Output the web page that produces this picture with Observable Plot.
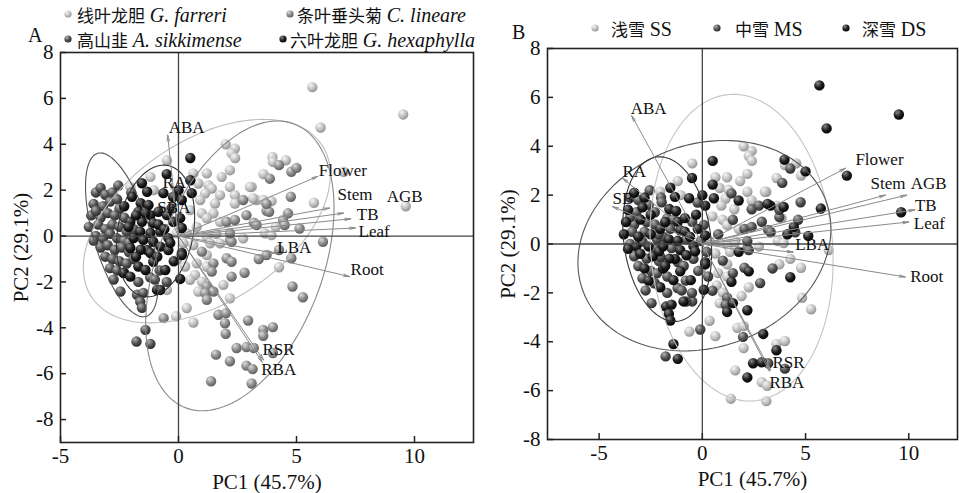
<!DOCTYPE html>
<html><head><meta charset="utf-8">
<script src="https://cdn.jsdelivr.net/npm/d3@7"></script>
<script src="https://cdn.jsdelivr.net/npm/@observablehq/plot@0.6"></script>
<style>
html,body{margin:0;padding:0;background:#fff;}
#wrap{position:relative;width:959px;height:493px;overflow:hidden;font-family:"Liberation Serif","Times New Roman",serif;color:#111;}
.panel{position:absolute;top:0;}
.leg{position:absolute;white-space:nowrap;font-size:19px;line-height:19px;}
.leg .zh{font-family:"Noto Sans CJK SC",sans-serif;font-size:17px;}
.leg i{font-family:"Liberation Serif",serif;font-size:20px;}
.bul{position:absolute;}
.letter{position:absolute;font-size:20px;line-height:20px;}
</style></head><body><div id="wrap"></div>
<script>
// ---------------- DATA ----------------
// points: [PC1, PC2, snow class index (0 SS, 1 MS, 2 DS)]
const farreri = [
[5.67,6.49,2],[9.52,5.30,2],[6.02,4.73,2],[3.98,3.45,2],[4.00,3.23,0],[4.55,3.30,0],[3.60,2.70,0],[3.10,2.14,0],[3.30,1.57,2],[3.94,1.52,2],[5.74,1.45,2],[4.12,0.40,2],[9.63,1.30,2],[7.00,2.80,2],[3.66,0.12,0],[3.94,0.04,0],[4.26,-1.36,2],
[2.39,3.81,0],[2.25,3.60,0],[2.00,4.00,0],[2.40,3.40,0],[-0.49,3.30,0],[0.63,2.73,0],[1.20,2.73,0],[1.83,2.58,0],[2.18,2.87,0],[3.03,2.14,0],[0.84,2.29,0],[1.27,2.22,0],[1.41,2.07,1],[2.18,2.14,0],[2.39,1.78,0],[1.76,1.78,2],[1.13,1.86,0],[0.92,1.57,0],[1.55,1.42,0],[2.39,1.42,1],[3.16,1.64,2],[3.59,1.57,0],[0.99,0.99,0],[1.48,0.99,1],[1.20,0.77,0],[1.76,0.62,0],[0.49,1.13,0],[0.77,0.40,1],[0.35,0.12,0],[1.20,-0.03,0],[1.60,0.10,0],[-1.19,2.58,0],[-2.04,2.14,0],[-1.05,2.00,0],
[0.70,-1.70,0],[0.49,-1.91,1],[0.99,-1.99,0],[0.84,-2.42,0],[1.90,-2.13,0],[2.18,-2.71,2],[-0.49,-2.35,1],[-0.07,-1.04,0],[0.28,-1.33,1],[0.77,-1.19,0],[1.20,-1.33,0],[1.20,-0.83,0],[0.21,-0.32,1],[0.63,-0.39,0],[1.34,-0.32,0],[1.76,-0.32,2],[2.74,-0.10,0],[-0.07,0.13,1],[-0.10,-3.50,1],[0.63,-3.77,0],[0.35,-3.14,0]
];
const lineare = [
[4.26,3.09,1],[4.78,2.80,0],[5.00,2.97,2],[3.87,2.50,1],[4.76,1.71,1],[3.73,1.10,1],[3.84,1.06,0],[4.64,0.99,1],[3.19,0.58,1],[4.43,0.70,2],[4.50,0.48,1],[5.13,0.33,2],[6.12,-0.25,0],[3.73,-0.83,0],[4.78,-0.97,0],[4.26,-0.61,0],[4.83,-2.20,0],[5.27,-2.67,0],[2.74,1.57,1],[3.73,1.40,1],[2.04,0.62,1],[2.39,0.70,1],[2.88,0.91,1],[3.31,0.48,1],[2.18,-0.17,1],[1.20,-2.20,1],[1.48,-2.42,2],[1.13,-2.49,1],[1.20,-2.78,2],[2.25,-1.77,0],[1.48,-1.19,1],[1.41,-1.55,2],[2.04,-0.97,1],[2.25,-1.12,2],[0.99,-0.68,1],[2.25,-0.25,1],[2.18,0.12,1],[3.40,-1.00,1],[2.80,-1.60,1],
[-0.63,-3.58,0],[1.69,-3.43,0],[2.01,-3.36,0],[1.97,-3.80,1],[2.00,-4.26,0],[2.95,-3.68,2],[3.59,-4.09,0],[3.59,-4.35,2],[4.00,-3.97,0],[2.46,-4.88,2],[2.88,-4.84,2],[3.19,-4.88,1],[1.59,-5.17,0],[2.18,-5.46,2],[2.88,-5.65,0],[3.14,-5.80,0],[1.38,-6.33,0],[3.10,-6.43,0],[4.00,-5.10,1]
];
const sikkimense = [
[-3.5,1.9,1],[-3.3,2.1,2],[-3.1,1.8,1],[-2.8,1.9,2],[-2.55,2.2,1],[-3.6,1.4,2],[-3.2,1.3,1],[-2.9,1.5,2],[-2.6,1.6,1],[-2.5,1.2,2],[-3.7,0.9,2],[-3.3,0.8,1],[-3.0,1.0,2],[-2.7,0.9,1],[-2.3,0.8,1],[-3.8,0.4,2],[-3.4,0.5,1],[-3.1,0.3,2],[-2.8,0.5,1],[-2.5,0.4,2],[-2.2,0.2,1],[-3.5,0.0,1],[-3.2,-0.1,2],[-2.9,0.1,1],[-2.6,-0.1,2],[-2.3,-0.2,1],[-3.3,-0.5,1],[-3.0,-0.4,2],[-2.7,-0.6,1],[-2.4,-0.5,2],[-2.1,-0.7,1],[-3.1,-0.9,1],[-2.8,-1.0,2],[-2.5,-1.1,1],[-2.2,-1.2,1],[-1.9,-1.0,2],[-2.9,-1.4,1],[-2.6,-1.5,2],[-2.3,-1.6,1],[-2.46,-2.42,1],[-1.76,-2.56,2],[-1.49,-2.48,2],[-1.62,-2.86,2],[-1.55,-3.13,2],[-1.4,-4.09,2],[-1.78,-4.6,1],[-1.19,-4.7,2],[-1.7,-2.0,1],[-1.2,-1.8,1],[-0.8,-1.5,1],[-3.6,-0.2,2],[-2.0,1.9,1],[-1.9,0.3,1],[-2.1,-0.3,2],[-3.5,1.1,1],[-2.75,-1.9,1],[-1.0,-1.9,1],[-0.5,-2.0,1]
];
const hexaphylla = [
[-0.5,2.7,2],[0.5,3.4,2],[-1.55,2.3,2],[0.5,2.43,2],[-1.33,1.93,2],[-0.64,1.87,2],[0,2.0,2],[-0.23,1.7,1],[0.14,1.57,2],[0.56,1.87,2],[-1.97,1.71,1],[-1.6,1.43,2],[-1.27,1.35,2],[-1.7,1.06,1],[-1.19,0.91,2],[-0.85,1.06,2],[-0.49,0.91,1],[-2.04,0.62,2],[-1.55,0.62,1],[-1.07,0.56,2],[-0.22,0.62,2],[0.07,0.78,1],[0.14,0.35,2],[-2.12,0.4,1],[-1.62,0.19,2],[-1.19,0.13,2],[-0.77,0.19,1],[-0.43,-0.09,2],[-1.9,-0.09,2],[-1.49,-0.17,1],[-1.07,-0.25,2],[-0.77,-0.46,2],[-0.43,-0.61,1],[0.14,-0.74,2],[-1.33,-0.61,2],[-2.04,-0.52,1],[-0.35,-0.3,2],[-1.6,-0.6,2],[-1.19,-0.74,1],[-1.07,-1.12,2],[-0.56,-1.48,2],[0.14,-0.83,2],[0.07,-1.87,2],[-1.7,-1.33,1],[-1.4,-1.48,2],[-2.33,-1.61,1],[-2.04,-1.77,2],[-0.91,-2.35,2],[-0.77,-2.35,1],[-0.85,0.5,2],[-1.4,1.0,1],[-0.3,1.2,2],[-0.6,0.3,2],[-1.8,0.9,2],[-2.3,1.3,1],[-0.9,-0.9,1],[-1.8,-0.9,2],[-0.2,-1.1,1]
];
const speciesZh = ["线叶龙胆","条叶垂头菊","高山韭","六叶龙胆"];
const speciesLa = ["G. farreri","C. lineare","A. sikkimense","G. hexaphylla"];
const snowZh = ["浅雪","中雪","深雪"];
const snowCode = ["SS","MS","DS"];

// loadings (arrow tips)
const loadNamesA = ["Flower","Stem","AGB","TB","Leaf","LBA","Root","RSR","RBA","ABA","RA","SBA"];
const loadXA = [5.9, 6.4, 7.0, 7.3, 7.5, 4.1, 7.25, 3.6, 3.55, -0.46, -0.3, -0.6];
const loadYA = [2.6, 1.22, 1.0, 0.75, 0.35, -0.75, -1.77, -5.4, -5.5, 4.4, 2.3, 1.3];
const loadNamesB = ["Flower","Stem","AGB","TB","Leaf","LBA","Root","RSR","RBA","ABA","RA","SB"];
const loadXB = [6.93, 8.87, 9.9, 10.3, 10.0, 4.4, 9.83, 3.3, 3.25, -3.42, -3.87, -4.35];
const loadYB = [3.1, 2.0, 2.0, 1.4, 0.9, -0.33, -1.35, -5.16, -5.2, 5.25, 2.7, 1.53];

// confidence ellipses: [cx, cy, semi-major, semi-minor, angle in degrees]
const ellipsesA = [[1.2,0.65,5.9,3.5,35],[2.6,-1.3,6.6,3.5,70],[-2.4,0.05,3.7,1.2,106],[-0.97,0.22,2.9,1.6,80]];
const ellipsesB = [[1.9,-0.15,6.3,4.4,97],[0.1,-0.07,6.2,4.2,12],[-1.7,0.2,3.4,2.1,100]];

const xTicks = [-5,0,5,10];
const yTicks = [-8,-6,-4,-2,0,2,4,6,8];

// ---------------- STYLE ----------------
const gradStops = {
  light: ["#f6f6f6","#c2c2c2","#8f8f8f"],
  mid:   ["#dedede","#8c8c8c","#5a5a5a"],
  dark:  ["#b4b4b4","#535353","#262626"],
  black: ["#8c8c8c","#1f1f1f","#000000"]
};
const speciesGrad = ["light","mid","dark","black"];
const snowGrad = ["light","dark","black"];
const ellColA = ["#bdbdbd","#8a8a8a","#555555","#333333"];
const ellColB = ["#c4c4c4","#555555","#333333"];
const labelOffA = {Flower:[1,-6],Stem:[8,-13],AGB:[43,-17],TB:[6,-4],Leaf:[3,4],LBA:[2,-6],Root:[1,-7],RSR:[-1,-10],RBA:[-1,7],ABA:[1,-8],RA:[-9,-1],SBA:[-7,1]};
const labelOffB = {Flower:[10,-9],Stem:[-15,-12],AGB:[4,-12],TB:[0,-4],Leaf:[5,2],LBA:[2,-8],Root:[5,0],RSR:[2,-8],RBA:[0,11],ABA:[-1,-7],RA:[0,-6],SB:[0,-8]};

const SVGNS = "http://www.w3.org/2000/svg";
function gradDefs(prefix) {
  return () => {
    const defs = document.createElementNS(SVGNS, "defs");
    let html = "";
    for (const [k, s] of Object.entries(gradStops)) {
      html += `<radialGradient id="${prefix}${k}" cx="38%" cy="34%" r="70%" fx="34%" fy="28%">
        <stop offset="0%" stop-color="${s[0]}"/><stop offset="55%" stop-color="${s[1]}"/><stop offset="100%" stop-color="${s[2]}"/></radialGradient>`;
    }
    defs.innerHTML = html;
    return defs;
  };
}
function ellipsePts([cx, cy, a, b, deg], id) {
  const t = deg * Math.PI / 180, out = [];
  for (let i = 0; i <= 160; i++) {
    const u = 2 * Math.PI * i / 160;
    const ex = a * Math.cos(u), ey = b * Math.sin(u);
    out.push({id, x: cx + ex * Math.cos(t) - ey * Math.sin(t), y: cy + ex * Math.sin(t) + ey * Math.cos(t)});
  }
  return out;
}

const species = [farreri, lineare, sikkimense, hexaphylla];
const allPts = species.flatMap((arr, si) => arr.map(p => ({x: p[0], y: p[1], sp: si, snow: p[2]})));

function panel({prefix, width, margins, xDomain, yDomain, groups, grads, ells, ellCols, names, lx, ly, offs}) {
  const loads = names.map((n, i) => ({name: n, x: lx[i], y: ly[i]}));
  const ellData = ells.flatMap((e, i) => ellipsePts(e, i));
  return Plot.plot({
    width, height: 493,
    marginLeft: margins[0], marginRight: margins[1], marginTop: margins[2], marginBottom: margins[3],
    x: {domain: xDomain},
    y: {domain: yDomain},
    style: {fontFamily: '"Liberation Serif","Times New Roman",serif', fontSize: "21px", color: "#111", background: "none", overflow: "visible"},
    marks: [
      gradDefs(prefix),
      ...groups.map((g, i) => Plot.dot(g, {x: "x", y: "y", r: 5.2, fill: `url(#${prefix}${grads[i]})`, stroke: "none"})),
      Plot.line(ellData, {x: "x", y: "y", z: "id", stroke: d => ellCols[d.id], strokeWidth: 1.1}),
      Plot.ruleX([0], {stroke: "#444", strokeWidth: 1.3}),
      Plot.ruleY([0], {stroke: "#444", strokeWidth: 1.3}),
      Plot.arrow(loads, {x1: 0, y1: 0, x2: "x", y2: "y", stroke: "#8a8a8a", strokeWidth: 1, headLength: 9, headAngle: 22}),
      ...loads.map(d => Plot.text([d], {x: "x", y: "y", text: "name", textAnchor: "start", fontSize: 17, fill: "#111", dx: offs[d.name][0], dy: offs[d.name][1]})),
      Plot.frame({stroke: "#222", strokeWidth: 1.6}),
      Plot.axisX({ticks: xTicks, tickSize: -6, tickPadding: 12, tickFormat: d => String(d), fontSize: 21, stroke: "#222", strokeWidth: 1.5,
        label: "PC1 (45.7%)", labelAnchor: "center", labelArrow: "none", labelOffset: 46}),
      Plot.axisY({ticks: yTicks, tickSize: -6, tickPadding: 13, tickFormat: d => String(d), fontSize: 21, stroke: "#222", strokeWidth: 1.5,
        label: "PC2 (29.1%)", labelAnchor: "center", labelArrow: "none", labelOffset: 47})
    ]
  });
}

const wrap = document.getElementById("wrap");

const plotA = panel({
  prefix: "ga", width: 480, margins: [60, 7, 52, 51], xDomain: [-5, 12.5], yDomain: [-9, 8],
  groups: species.map((_, si) => allPts.filter(p => p.sp === si)), grads: speciesGrad,
  ells: ellipsesA, ellCols: ellColA, names: loadNamesA, lx: loadXA, ly: loadYA, offs: labelOffA
});
plotA.classList.add("panel"); plotA.style.left = "0px";
wrap.appendChild(plotA);

const plotB = panel({
  prefix: "gb", width: 479, margins: [67, 2, 48, 54], xDomain: [-7.5, 12.36], yDomain: [-8, 8],
  groups: [0, 1, 2].map(s => allPts.filter(p => p.snow === s)), grads: snowGrad,
  ells: ellipsesB, ellCols: ellColB, names: loadNamesB, lx: loadXB, ly: loadYB, offs: labelOffB
});
plotB.classList.add("panel"); plotB.style.left = "480px";
wrap.appendChild(plotB);

// ---------------- LEGENDS ----------------
const legSvg = document.createElementNS(SVGNS, "svg");
legSvg.setAttribute("width", 0); legSvg.setAttribute("height", 0);
legSvg.style.position = "absolute";
legSvg.appendChild(gradDefs("gl")());
wrap.appendChild(legSvg);

function legendItem(cx, cy, textX, grad, zh, latin, italic) {
  const b = document.createElementNS(SVGNS, "svg");
  b.setAttribute("class", "bul"); b.setAttribute("width", 10); b.setAttribute("height", 10);
  b.style.left = (cx - 5) + "px"; b.style.top = (cy - 5) + "px";
  b.innerHTML = `<circle cx="5" cy="5" r="3.6" fill="url(#gl${grad})"/>`;
  wrap.appendChild(b);
  const d = document.createElement("div");
  d.className = "leg"; d.style.left = textX + "px"; d.style.top = (cy - 9.5) + "px";
  d.innerHTML = `<span class="zh">${zh}</span> ` + (italic ? `<i>${latin}</i>` : `<span style="font-size:20px">${latin}</span>`);
  wrap.appendChild(d);
}
legendItem(68, 14, 77, speciesGrad[0], speciesZh[0], speciesLa[0], true);
legendItem(290, 14, 297, speciesGrad[1], speciesZh[1], speciesLa[1], true);
legendItem(68, 39, 77, speciesGrad[2], speciesZh[2], speciesLa[2], true);
legendItem(283, 39, 290, speciesGrad[3], speciesZh[3], speciesLa[3], true);
legendItem(595, 28, 611, snowGrad[0], snowZh[0], snowCode[0], false);
legendItem(717, 28, 735, snowGrad[1], snowZh[1], snowCode[1], false);
legendItem(846, 28, 862, snowGrad[2], snowZh[2], snowCode[2], false);

for (const [t, x, y] of [["A", 28, 25], ["B", 512, 22]]) {
  const d = document.createElement("div");
  d.className = "letter"; d.textContent = t; d.style.left = x + "px"; d.style.top = y + "px";
  wrap.appendChild(d);
}
</script></body></html>
